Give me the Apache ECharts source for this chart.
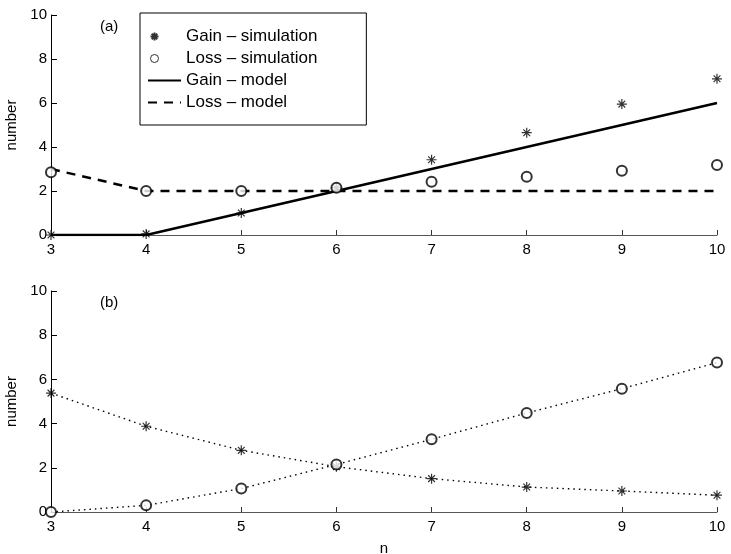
<!DOCTYPE html>
<html>
<head>
<meta charset="utf-8">
<script src="https://cdn.jsdelivr.net/npm/echarts@6/dist/echarts.min.js"></script>
<style>
  html, body { margin: 0; padding: 0; background: #fff; }
  #main { width: 731px; height: 554px; }
</style>
</head>
<body>
<div id="main"></div>
<script>
// x values (n) and the series
var nValues = [3, 4, 5, 6, 7, 8, 9, 10];
var yTicks = [0, 2, 4, 6, 8, 10];

// (a)
var gainSimA = [0, 0.05, 1.0, 2.15, 3.42, 4.65, 5.95, 7.1];
var lossSimA = [2.85, 2.0, 2.0, 2.15, 2.42, 2.65, 2.92, 3.18];
var gainModelA = [0, 0, 1, 2, 3, 4, 5, 6];
var lossModelA = [3, 2, 2, 2, 2, 2, 2, 2];

// (b)
var gainSimB = [5.38, 3.88, 2.79, 2.05, 1.51, 1.13, 0.95, 0.76];
var lossSimB = [0, 0.3, 1.06, 2.15, 3.29, 4.48, 5.58, 6.76];

var seriesNames = ['Gain \u2013 simulation', 'Loss \u2013 simulation',
                   'Gain \u2013 model', 'Loss \u2013 model'];

function pairs(ys) {
    return nValues.map(function (n, i) { return [n, ys[i]]; });
}

var FONT = 'Liberation Sans';
var STAR = 'path://M0,5L10,5M5,0L5,10M1.6,1.6L8.4,8.4M1.6,8.4L8.4,1.6';
// legend icons: marker sits left of centre in a 33x14 box (the M0,0 M33,14 set the box)
var STAR_ICON = 'path://M2.5,7L10.5,7M6.5,3L6.5,11M3.7,4.2L9.3,9.8M3.7,9.8L9.3,4.2M0,0M33,14';
var CIRCLE_ICON = 'path://M2.5,7A4,4,0,1,1,10.5,7A4,4,0,1,1,2.5,7ZM0,0M33,14';

function xAxis(idx, withName) {
    var ax = {
        type: 'value', gridIndex: idx,
        min: nValues[0], max: nValues[nValues.length - 1], interval: 1,
        axisLine: { show: true, lineStyle: { color: '#555', width: 1 } },
        axisTick: { show: true, inside: true, length: 5, lineStyle: { color: '#333' } },
        axisLabel: { color: '#000', fontFamily: FONT, fontSize: 15, margin: 7 },
        splitLine: { show: false }
    };
    if (withName) {
        ax.name = 'n';
        ax.nameLocation = 'middle';
        ax.nameGap = 29;
        ax.nameTextStyle = { color: '#000', fontFamily: FONT, fontSize: 15 };
    }
    return ax;
}

function yAxis(idx) {
    return {
        type: 'value', gridIndex: idx,
        min: yTicks[0], max: yTicks[yTicks.length - 1], interval: 2,
        name: 'number', nameLocation: 'middle', nameGap: 30,
        nameTextStyle: { color: '#000', fontFamily: FONT, fontSize: 15 },
        axisLine: { show: true, lineStyle: { color: '#000', width: 1 } },
        axisTick: { show: true, inside: true, length: 6, lineStyle: { color: '#000' } },
        axisLabel: { color: '#000', fontFamily: FONT, fontSize: 15, margin: 4 },
        splitLine: { show: false }
    };
}

var starStyle = { color: '#000', borderColor: '#000', borderWidth: 1.2 };
var circleStyle = { color: '#000', borderColor: '#000', borderWidth: 1 };
var dotted = { color: '#000', width: 1.4, type: [1.5, 4] };

function markers(name, grid, ys, symbol, style) {
    return {
        name: name, type: 'scatter', xAxisIndex: grid, yAxisIndex: grid,
        data: pairs(ys), symbol: symbol, symbolSize: 10, z: 3,
        itemStyle: style
    };
}

function line(name, grid, ys, lineStyle) {
    return {
        name: name, type: 'line', xAxisIndex: grid, yAxisIndex: grid,
        data: pairs(ys), symbol: 'none', z: 2,
        itemStyle: { color: '#000' },
        lineStyle: lineStyle
    };
}

var chart = echarts.init(document.getElementById('main'));
chart.setOption({
    animation: false,
    backgroundColor: '#fff',
    grid: [
        { left: 51, right: 14, top: 15, height: 220, containLabel: false, outerBoundsMode: 'none' },
        { left: 51, right: 14, top: 291, height: 221, containLabel: false, outerBoundsMode: 'none' }
    ],
    xAxis: [xAxis(0, false), xAxis(1, true)],
    yAxis: [yAxis(0), yAxis(1)],
    legend: {
        left: 140, top: 13,
        orient: 'vertical',
        data: [
            { name: seriesNames[0], icon: STAR_ICON },
            { name: seriesNames[1], icon: CIRCLE_ICON,
              itemStyle: { color: '#fff', borderColor: '#000', borderWidth: 1 } },
            { name: seriesNames[2], itemStyle: { opacity: 0 } },
            { name: seriesNames[3], itemStyle: { opacity: 0 } }
        ],
        itemWidth: 33, itemHeight: 14, itemGap: 5,
        padding: [15, 49, 14, 7],
        borderColor: '#000', borderWidth: 1,
        textStyle: { color: '#000', fontFamily: FONT, fontSize: 17, lineHeight: 17 }
    },
    graphic: [
        { type: 'text', left: 100, top: 19, style: { text: '(a)', fontFamily: FONT, fontSize: 15, fill: '#000' } },
        { type: 'text', left: 100, top: 295, style: { text: '(b)', fontFamily: FONT, fontSize: 15, fill: '#000' } }
    ],
    series: [
        line(seriesNames[2], 0, gainModelA, { color: '#000', width: 2.5, type: 'solid' }),
        line(seriesNames[3], 0, lossModelA, { color: '#000', width: 2.5, type: [9, 7] }),
        markers(seriesNames[0], 0, gainSimA, STAR, starStyle),
        markers(seriesNames[1], 0, lossSimA, 'emptyCircle', circleStyle),
        line('gainB-line', 1, gainSimB, dotted),
        line('lossB-line', 1, lossSimB, dotted),
        markers('gainB', 1, gainSimB, STAR, starStyle),
        markers('lossB', 1, lossSimB, 'emptyCircle', circleStyle)
    ]
});
</script>
</body>
</html>
